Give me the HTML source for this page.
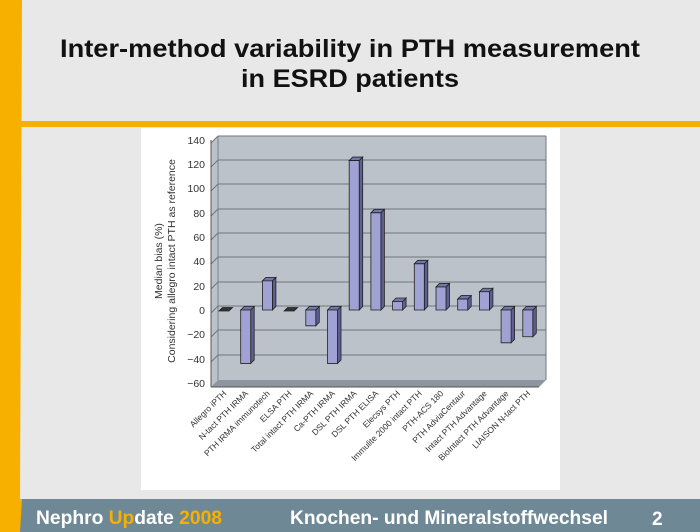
<!DOCTYPE html>
<html><head><meta charset="utf-8"><style>
html,body{margin:0;padding:0;width:700px;height:532px;overflow:hidden;background:#e8e8e8;font-family:"Liberation Sans",sans-serif}
</style></head><body>
<svg width="700" height="532" viewBox="0 0 700 532" xmlns="http://www.w3.org/2000/svg" style="position:absolute;left:0;top:0">
<rect width="700" height="532" fill="#e8e8e8"/>
<polygon points="0,0 22,0 20,500 0,500" fill="#f7b000"/>
<rect x="20" y="121" width="680" height="6" fill="#f7b000"/>
<text x="60" y="57" font-size="25" font-weight="bold" fill="#111" textLength="580" lengthAdjust="spacingAndGlyphs">Inter-method variability in PTH measurement</text>
<text x="241" y="87" font-size="25" font-weight="bold" fill="#111" textLength="218" lengthAdjust="spacingAndGlyphs">in ESRD patients</text>
<rect x="141" y="128" width="419" height="362" fill="#fff"/>
<polygon points="211,143 218,136 546,136 546,380 539,387 211,387" fill="#bcc2ca"/>
<polygon points="211,387 218,380 546,380 539,387" fill="#8e959e"/>
<line x1="218" y1="136" x2="218" y2="380" stroke="#7a8088" stroke-width="1"/>
<g stroke="#6f767e" stroke-width="1">
<line x1="211" y1="143" x2="218" y2="136"/><line x1="218" y1="136" x2="546" y2="136"/>
<line x1="211" y1="167" x2="218" y2="160"/><line x1="218" y1="160" x2="546" y2="160"/>
<line x1="211" y1="191" x2="218" y2="184"/><line x1="218" y1="184" x2="546" y2="184"/>
<line x1="211" y1="216" x2="218" y2="209"/><line x1="218" y1="209" x2="546" y2="209"/>
<line x1="211" y1="240" x2="218" y2="233"/><line x1="218" y1="233" x2="546" y2="233"/>
<line x1="211" y1="264" x2="218" y2="257"/><line x1="218" y1="257" x2="546" y2="257"/>
<line x1="211" y1="289" x2="218" y2="282"/><line x1="218" y1="282" x2="546" y2="282"/>
<line x1="211" y1="313" x2="218" y2="306"/><line x1="218" y1="306" x2="546" y2="306"/>
<line x1="211" y1="337" x2="218" y2="330"/><line x1="218" y1="330" x2="546" y2="330"/>
<line x1="211" y1="362" x2="218" y2="355"/><line x1="218" y1="355" x2="546" y2="355"/>
<line x1="546" y1="136" x2="546" y2="380"/>
</g>
<line x1="211" y1="140" x2="211" y2="387" stroke="#555" stroke-width="1"/>
<line x1="211" y1="387" x2="539" y2="387" stroke="#555" stroke-width="1"/>
<g font-size="10.5" fill="#333" text-anchor="end">
<text x="205" y="144">140</text><text x="205" y="168">120</text><text x="205" y="192">100</text>
<text x="205" y="217">80</text><text x="205" y="241">60</text><text x="205" y="265">40</text>
<text x="205" y="290">20</text><text x="205" y="314">0</text><text x="205" y="338">−20</text>
<text x="205" y="363">−40</text><text x="205" y="387">−60</text>
</g>
<g font-size="10.5" fill="#333" text-anchor="middle">
<text transform="translate(162,261) rotate(-90)">Median bias (%)</text>
<text transform="translate(175,261) rotate(-90)">Considering allegro intact PTH as reference</text>
</g>
<g id="bars" stroke="#222" stroke-width="0.8"></g>
<g id="labels" font-size="8.5" fill="#333" text-anchor="end"></g>
<rect x="0" y="499" width="700" height="33" fill="#6f8896"/>
<polygon points="0,499 22,499 20,532 0,532" fill="#f7b000"/>
<text x="36" y="524" font-size="19" font-weight="bold" fill="#fff" textLength="186" lengthAdjust="spacingAndGlyphs">Nephro <tspan fill="#f7b000">Up</tspan>date <tspan fill="#f7b000">2008</tspan></text>
<text x="290" y="524" font-size="19" font-weight="bold" fill="#fff" textLength="318" lengthAdjust="spacingAndGlyphs">Knochen- und Mineralstoffwechsel</text>
<text x="652" y="525" font-size="19" font-weight="bold" fill="#fff">2</text>
</svg>
<script>
(function(){
var vals=[1,-44,24,-1,-13,-44,123,80,7,38,19,9,15,-27,-22];
var names=["Allegro iPTH","N-tact PTH IRMA","PTH IRMA immunotech","ELSA PTH","Total intact PTH IRMA","Ca-PTH IRMA","DSL PTH IRMA","DSL PTH ELISA","Elecsys PTH","Immulite 2000 intact PTH","PTH-ACS 180","PTH AdviaCentaur","Intact PTH Advantage","BioIntact PTH Advantage","LIAISON N-tact PTH"];
var ns="http://www.w3.org/2000/svg",b=document.getElementById("bars"),l=document.getElementById("labels");
function poly(p,f){var e=document.createElementNS(ns,"polygon");e.setAttribute("points",p);e.setAttribute("fill",f);b.appendChild(e);}
var z=310,k=1.215,d=3.5;
for(var i=0;i<15;i++){
 var cx=224+i*21.7,x0=cx-5,x1=cx+5,yv=z-vals[i]*k,ty=Math.min(yv,z),by=Math.max(yv,z);
 if(Math.abs(vals[i])<2){poly(x0+","+(z+1)+" "+x1+","+(z+1)+" "+(x1+d)+","+(z+1-d)+" "+(x0+d)+","+(z+1-d),"#333");}
 else{
 poly(x1+","+ty+" "+(x1+d)+","+(ty-d)+" "+(x1+d)+","+(by-d)+" "+x1+","+by,"#5d5f93");
 poly(x0+","+ty+" "+(x0+d)+","+(ty-d)+" "+(x1+d)+","+(ty-d)+" "+x1+","+ty,"#7476aa");
 poly(x0+","+ty+" "+x1+","+ty+" "+x1+","+by+" "+x0+","+by,"#a0a2d4");}
 var t=document.createElementNS(ns,"text");t.setAttribute("transform","translate("+(cx+3)+",394) rotate(-45)");t.textContent=names[i];l.appendChild(t);
}
})();
</script>
</body></html>
